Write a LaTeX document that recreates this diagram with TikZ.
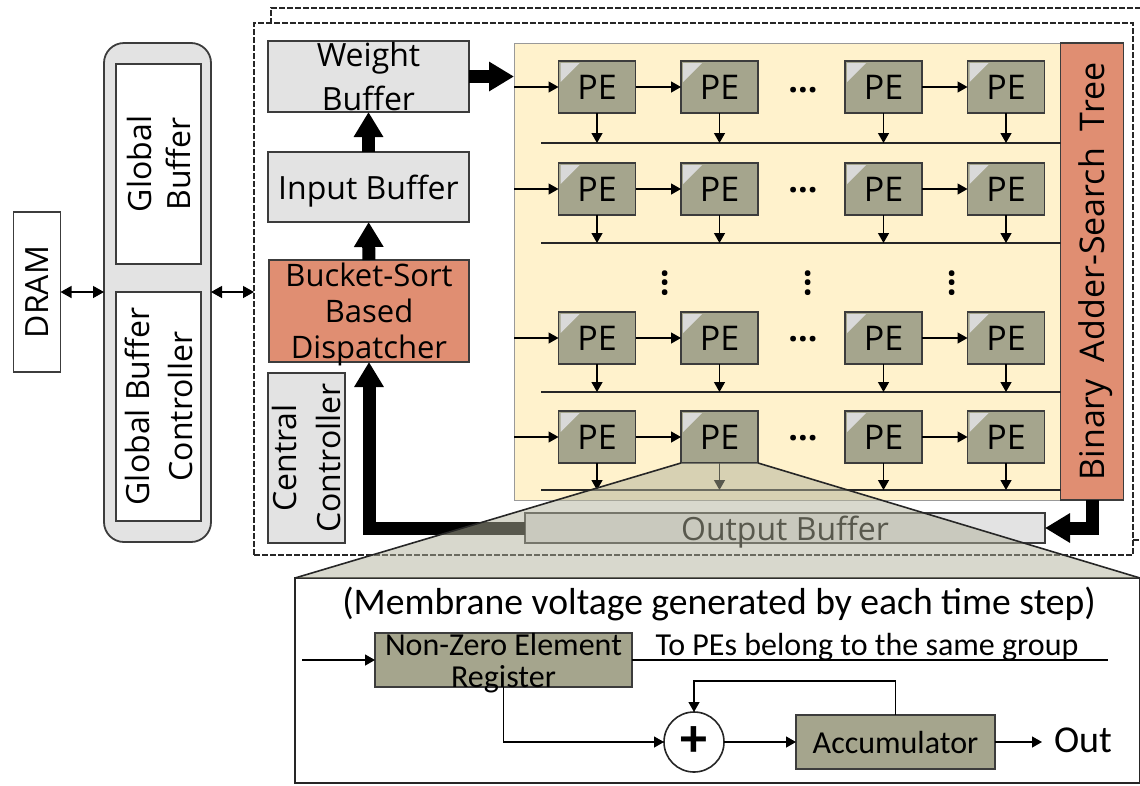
\documentclass[tikz,border=0pt]{standalone}
\usepackage{fontspec}
\setmainfont{Open Sans}
\newfontfamily\calfont{Carlito}
\definecolor{buffgray}{RGB}{227, 227, 227}
\definecolor{pegreen}{RGB}{165, 165, 141}
\definecolor{treered}{RGB}{224, 142, 114}
\definecolor{panelyellow}{RGB}{255, 242, 204}
\definecolor{edgegray}{RGB}{60, 60, 60}
\definecolor{funnelgray}{RGB}{177, 177, 155}
\usetikzlibrary{arrows.meta, positioning, calc}
\tikzset{
  blockbox/.style={draw=edgegray, line width=1.8pt, inner sep=0pt, outer sep=0pt, align=center, text depth=0pt, font=\fontsize{32}{36}\selectfont},
  pebox/.style={blockbox, fill=pegreen, minimum width=77pt, minimum height=52pt, font=\fontsize{34}{36}\selectfont,
    path picture={\fill[white!85!black] (path picture bounding box.north west) ++(2pt,-2pt) -- ++(19pt,0pt) -- ++(-19pt,-19pt) -- cycle;}},
  thinarrow/.style={line width=1.3pt, -{Triangle[length=10pt,width=11pt]}},
  bothways/.style={line width=1.3pt, {Triangle[length=11pt,width=12pt]}-{Triangle[length=11pt,width=12pt]}},
  fatarrow/.style={line width=13pt, -{Triangle[length=25pt,width=28pt]}},
  busline/.style={line width=2pt, draw=black!85},
  dotsrow/.style={font=\fontsize{34}{34}\selectfont\bfseries, inner sep=0pt},
  caltext/.style={font=\calfont\fontsize{32}{34}\selectfont, inner sep=0pt},
  framedash/.style={line width=1.2pt, draw=black!85, dash pattern=on 6pt off 2pt}
}
\begin{document}
\begin{tikzpicture}[x=1pt, y=-1pt]
  \useasboundingbox (0,0) rectangle (1140,785);

  % Back frame
  \draw[framedash] (271,24) |- (1140,8);
  \draw[framedash] (1133,540) -- (1140,540);
  % Front frame
  \node[framedash, draw, minimum width=879pt, minimum height=532pt, inner sep=0pt, outer sep=0pt] (core) at (693.5,289) {};

  % Memory side
  \node[blockbox, rotate=90, minimum width=160pt, minimum height=47pt, fill=white] (dram) at (37,292) {DRAM};
  \node[blockbox, fill=buffgray, rounded corners=20pt, minimum width=107pt, minimum height=499pt] (gbuf) at (157.5,292.5) {};
  \node[blockbox, rotate=90, fill=white, minimum width=200pt, minimum height=85pt, font=\fontsize{32}{39}\selectfont] (gbufmem) at (158.5,164) {Global\\Buffer};
  \node[blockbox, rotate=90, fill=white, minimum width=229pt, minimum height=85pt, font=\fontsize{32}{43}\selectfont] (gbufctrl) at (158.5,406.5) {Global Buffer\\Controller};

  \draw[bothways] (dram.south |- 0,292) -- (gbuf.west |- 0,292);
  \draw[bothways] (gbuf.east |- 0,292) -- (core.west |- 0,292);

  % Left column
  \node[blockbox, fill=buffgray, minimum width=201pt, minimum height=71pt, font=\fontsize{32}{44}\selectfont] (wbuf) at (368.5,76.5) {Weight\\Buffer};
  \node[blockbox, fill=buffgray, minimum width=201pt, minimum height=70pt] (ibuf) at (368.5,187) {Input Buffer};
  \node[blockbox, fill=treered, minimum width=200pt, minimum height=102pt, font=\fontsize{31}{36}\selectfont] (disp) at (369,311) {Bucket-Sort\\Based\\Dispatcher};
  \node[blockbox, rotate=90, fill=buffgray, minimum width=170pt, minimum height=77pt, font=\fontsize{32}{44}\selectfont] (cctrl) at (306.5,458) {Central\\Controller};

  % PE panel
  \node[draw=black!40, line width=1pt, fill=panelyellow, minimum width=546pt, minimum height=457pt, inner sep=0pt, outer sep=0pt] (panel) at (787,271.5) {};
  \node[blockbox, rotate=90, fill=treered, minimum width=457pt, minimum height=63pt, font=\fontsize{34}{36}\selectfont] (tree) at (1092,271.5) {Binary\enspace Adder-Search\enspace Tree};

  % Row 1
  \node[pebox] (pe11) at (597,87) {PE};
  \node[pebox] (pe12) at (719.5,87) {PE};
  \node[pebox] (pe13) at (883.5,87) {PE};
  \node[pebox] (pe14) at (1006,87) {PE};
  % Row 2
  \node[pebox] (pe21) at (597,189) {PE};
  \node[pebox] (pe22) at (719.5,189) {PE};
  \node[pebox] (pe23) at (883.5,189) {PE};
  \node[pebox] (pe24) at (1006,189) {PE};
  % Row 3
  \node[pebox] (pe31) at (597,338) {PE};
  \node[pebox] (pe32) at (719.5,338) {PE};
  \node[pebox] (pe33) at (883.5,338) {PE};
  \node[pebox] (pe34) at (1006,338) {PE};
  % Row 4
  \node[pebox] (pe41) at (597,437) {PE};
  \node[pebox] (pe42) at (719.5,437) {PE};
  \node[pebox] (pe43) at (883.5,437) {PE};
  \node[pebox] (pe44) at (1006,437) {PE};

  % Elided columns and rows
  \node[dotsrow] (dots1) at (803,90) {...};
  \node[dotsrow] (dots2) at (803,190) {...};
  \node[dotsrow] (dots3) at (803,339) {...};
  \node[dotsrow] (dots4) at (803,438) {...};
  \node[dotsrow, rotate=90] (vdots1) at (665,283) {...};
  \node[dotsrow, rotate=90] (vdots2) at (808,283) {...};
  \node[dotsrow, rotate=90] (vdots3) at (952,283) {...};

  % Row arrows
  \draw[thinarrow] (pe11.west -| panel.west) -- (pe11.west);
  \draw[thinarrow] (pe11) -- (pe12);
  \draw[thinarrow] (pe13) -- (pe14);
  \draw[thinarrow] (pe21.west -| panel.west) -- (pe21.west);
  \draw[thinarrow] (pe21) -- (pe22);
  \draw[thinarrow] (pe23) -- (pe24);
  \draw[thinarrow] (pe31.west -| panel.west) -- (pe31.west);
  \draw[thinarrow] (pe31) -- (pe32);
  \draw[thinarrow] (pe33) -- (pe34);
  \draw[thinarrow] (pe41.west -| panel.west) -- (pe41.west);
  \draw[thinarrow] (pe41) -- (pe42);
  \draw[thinarrow] (pe43) -- (pe44);

  % Buses
  \coordinate (bus1) at (541,143);
  \coordinate (bus2) at (541,243);
  \coordinate (bus3) at (541,392);
  \coordinate (bus4) at (541,490);
  \draw[busline] (bus1) -- (bus1 -| tree.north);
  \draw[busline] (bus2) -- (bus2 -| tree.north);
  \draw[busline] (bus3) -- (bus3 -| tree.north);
  \draw[busline] (bus4) -- (bus4 -| tree.north);

  % Down arrows
  \draw[thinarrow] (pe11) -- (pe11 |- bus1);
  \draw[thinarrow] (pe12) -- (pe12 |- bus1);
  \draw[thinarrow] (pe13) -- (pe13 |- bus1);
  \draw[thinarrow] (pe14) -- (pe14 |- bus1);
  \draw[thinarrow] (pe21) -- (pe21 |- bus2);
  \draw[thinarrow] (pe22) -- (pe22 |- bus2);
  \draw[thinarrow] (pe23) -- (pe23 |- bus2);
  \draw[thinarrow] (pe24) -- (pe24 |- bus2);
  \draw[thinarrow] (pe31) -- (pe31 |- bus3);
  \draw[thinarrow] (pe32) -- (pe32 |- bus3);
  \draw[thinarrow] (pe33) -- (pe33 |- bus3);
  \draw[thinarrow] (pe34) -- (pe34 |- bus3);
  \draw[thinarrow] (pe41) -- (pe41 |- bus4);
  \draw[thinarrow] (pe42) -- (pe42 |- bus4);
  \draw[thinarrow] (pe43) -- (pe43 |- bus4);
  \draw[thinarrow] (pe44) -- (pe44 |- bus4);

  % Output buffer
  \node[blockbox, fill=buffgray, minimum width=520pt, minimum height=30pt, font=\fontsize{32}{34}\selectfont] (obuf) at (785,528) {Output Buffer};

  % Fat arrows
  \draw[fatarrow] (wbuf.east) -- (wbuf.east -| panel.west);
  \draw[fatarrow] (ibuf) -- (wbuf);
  \draw[fatarrow] (disp) -- (ibuf);
  \draw[fatarrow] (obuf.west) -| (disp.south);
  \draw[fatarrow] (tree.west) |- (obuf.east);

  % Detail box
  \node[draw=black!85, line width=2pt, fill=white, minimum width=845pt, minimum height=205pt, inner sep=0pt, outer sep=0pt] (detail) at (717.5,680.5) {};

  % Zoom funnel
  \fill[funnelgray, opacity=0.5] (pe42.south west) -- (detail.north west) -- (detail.north east) -- (pe42.south east) -- cycle;
  \draw[line width=1.6pt, black!85] (pe42.south west) -- (detail.north west);
  \draw[line width=1.6pt, black!85] (pe42.south east) -- (detail.north east);

  % Detail contents
  \node[caltext, font=\calfont\fontsize{37.6}{40}\selectfont] (title) at (719,604) {(Membrane voltage generated by each time step)};
  \node[blockbox, fill=pegreen, minimum width=257pt, minimum height=54pt, font=\calfont\fontsize{32}{32}\selectfont] (nzreg) at (503.5,660) {Non-Zero Element\\Register};
  \node[caltext] (peslabel) at (867,647) {To PEs belong to the same group};
  \node[draw=black!85, line width=1.6pt, circle, fill=white, minimum size=60pt, inner sep=0pt, outer sep=0pt, font=\calfont\bfseries\fontsize{54}{54}\selectfont] (adder) at (694,742) {+};
  \node[blockbox, fill=pegreen, minimum width=199pt, minimum height=54pt, font=\calfont\fontsize{32}{32}\selectfont] (accum) at (895.5,742) {Accumulator};
  \node[caltext, font=\calfont\fontsize{38}{38}\selectfont] (outlabel) at (1083,740) {Out};

  \coordinate (regin) at (302,660);
  \coordinate (regout) at (1108,660);
  \coordinate (loopturn) at (895.5,681);
  \coordinate (outend) at (1042,742);
  \draw[thinarrow] (regin) -- (nzreg.west);
  \draw[line width=1.3pt] (nzreg.east) -- (regout);
  \draw[thinarrow] (nzreg.south) |- (adder.west);
  \draw[thinarrow] (adder.east) -- (accum.west);
  \draw[thinarrow] (accum.north) -- (loopturn) -| (adder.north);
  \draw[thinarrow] (accum.east) -- (outend);
\end{tikzpicture}
\end{document}
